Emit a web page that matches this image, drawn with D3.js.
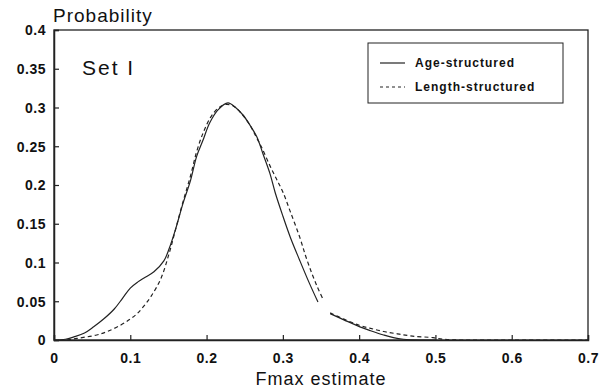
<!DOCTYPE html>
<html><head><meta charset="utf-8">
<script src="https://cdn.jsdelivr.net/npm/d3@7"></script>
<style>
html,body{margin:0;padding:0;background:#fff;}
svg text{font-family:"Liberation Sans",Arial,sans-serif;fill:#111;}
</style></head>
<body><svg id="c" width="613" height="391"></svg>
<script>
// ---- data ----
const seriesNames = ["Age-structured", "Length-structured"];
const ageX = [0.000,0.015,0.026,0.040,0.052,0.065,0.079,0.090,0.100,0.110,0.118,0.131,0.144,0.151,0.160,0.169,0.179,0.187,0.195,0.204,0.215,0.228,0.238,0.248,0.257,0.266,0.274,0.283,0.290,0.300,0.310,0.322,0.334,0.346,0.354,0.362,0.380,0.401,0.415,0.432,0.445,0.458,0.480,0.500];
const ageY = [0.000,0.001,0.004,0.009,0.017,0.027,0.040,0.054,0.067,0.075,0.080,0.088,0.102,0.118,0.145,0.176,0.206,0.237,0.257,0.280,0.297,0.306,0.300,0.290,0.277,0.262,0.240,0.215,0.190,0.160,0.132,0.103,0.075,0.049,null,0.034,0.026,0.017,0.012,0.0065,0.003,0.001,0.000,0.000];
const lenX = [0.017,0.030,0.056,0.070,0.087,0.100,0.109,0.118,0.127,0.140,0.151,0.160,0.169,0.179,0.187,0.195,0.205,0.215,0.225,0.235,0.245,0.257,0.265,0.272,0.283,0.292,0.300,0.310,0.322,0.330,0.338,0.345,0.352,0.357,0.362,0.380,0.400,0.415,0.432,0.450,0.470,0.497,0.510,0.530,0.600,0.700];
const lenY = [0.000,0.002,0.0065,0.011,0.019,0.027,0.034,0.044,0.056,0.079,0.112,0.145,0.178,0.212,0.243,0.266,0.287,0.299,0.304,0.302,0.293,0.277,0.262,0.249,0.225,0.207,0.191,0.165,0.133,0.108,0.086,0.069,0.054,null,0.035,0.027,0.019,0.015,0.011,0.008,0.005,0.003,0.001,0.000,0.000,0.000];
const xTicks = [0,0.1,0.2,0.3,0.4,0.5,0.6,0.7];
const yTicks = [0,0.05,0.1,0.15,0.2,0.25,0.3,0.35,0.4];
const xTickLabels = ["0","0.1","0.2","0.3","0.4","0.5","0.6","0.7"];
const yTickLabels = ["0","0.05","0.1","0.15","0.2","0.25","0.3","0.35","0.4"];

// ---- layout ----
const L = 54, R = 588, T = 30, B = 340;
const svg = d3.select("#c");
const x = d3.scaleLinear().domain([0,0.7]).range([L,R]);
const y = d3.scaleLinear().domain([0,0.4]).range([B,T]);

// frame
svg.append("rect").attr("x",L).attr("y",T).attr("width",R-L).attr("height",B-T)
  .attr("fill","none").attr("stroke","#222").attr("stroke-width",1.3);

// axes with inward ticks
const xa = svg.append("g").attr("transform",`translate(0,${B})`)
  .call(d3.axisBottom(x).tickValues(xTicks).tickSize(-5).tickFormat((d,i)=>xTickLabels[i]));
const ya = svg.append("g").attr("transform",`translate(${L},0)`)
  .call(d3.axisLeft(y).tickValues(yTicks).tickSize(-5).tickFormat((d,i)=>yTickLabels[i]));
[xa,ya].forEach(g=>{
  g.select(".domain").attr("stroke","#222").attr("stroke-width",1.5);
  g.selectAll(".tick line").attr("stroke","#222").attr("stroke-width",1.2);
  g.selectAll(".tick text").attr("font-size",14).attr("font-weight","bold").attr("fill","#111")
   .style("letter-spacing","0.5px");
});
xa.selectAll(".tick text").attr("dy",null).attr("y",23);
ya.selectAll(".tick text").attr("x",-8).attr("dy","0.35em");

// curves
const mk = (xs,ys)=>xs.map((v,i)=>({x:v,y:ys[i]}));
const line = d3.line().defined(d=>d.y!==null).x(d=>x(d.x)).y(d=>y(d.y)).curve(d3.curveCatmullRom.alpha(0.5));
svg.append("path").datum(mk(ageX,ageY)).attr("d",line)
  .attr("fill","none").attr("stroke","#222").attr("stroke-width",1.2);
svg.append("path").datum(mk(lenX,lenY)).attr("d",line)
  .attr("fill","none").attr("stroke","#222").attr("stroke-width",1.2).attr("stroke-dasharray","4,3");

// titles
svg.append("text").attr("x",53).attr("y",22).attr("font-size",19).style("letter-spacing","1px").text("Probability");
svg.append("text").attr("x",321).attr("y",385).attr("text-anchor","middle").attr("font-size",18).style("letter-spacing","1px").text("Fmax estimate");
svg.append("text").attr("x",82).attr("y",75).attr("font-size",21).style("letter-spacing","2px").text("Set I");

// legend
svg.append("rect").attr("x",368).attr("y",43).attr("width",195).attr("height",60)
  .attr("fill","#fff").attr("stroke","#222").attr("stroke-width",1);
const legY = [63,87];
const dashes = [null,"3,3"];
seriesNames.forEach((n,i)=>{
  svg.append("line").attr("x1",380).attr("x2",405).attr("y1",legY[i]).attr("y2",legY[i])
    .attr("stroke","#222").attr("stroke-width",1.2).attr("stroke-dasharray",dashes[i]);
  svg.append("text").attr("x",415).attr("y",legY[i]).attr("dy","0.35em").attr("font-size",12)
    .attr("font-weight","bold").style("letter-spacing","1px").text(n);
});
</script></body></html>
